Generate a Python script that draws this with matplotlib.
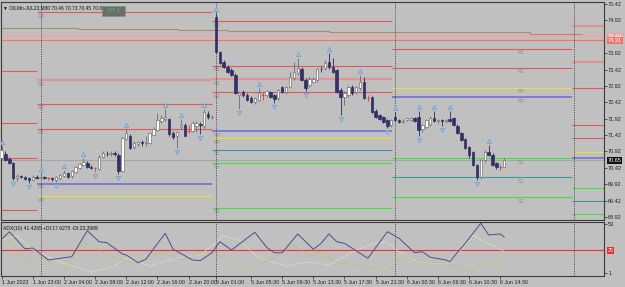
import matplotlib

matplotlib.use("Agg")
import matplotlib.pyplot as plt
import matplotlib.transforms as mtransforms
import numpy as np

plt.rcParams["font.family"] = ["Liberation Sans", "DejaVu Sans"]

# OILMn-JUL23 M30 bars, 1 Jun 19:00 .. 6 Jun 15:00 (bar index = position)
opens = [70.72, 70.85, 70.70, 70.57, 70.11, 70.17, 70.15, 70.10, 70.06, 70.14,
         70.12, 70.14, 70.10, 70.10, 70.06, 70.10, 70.17, 70.26, 70.17, 70.30,
         70.42, 70.51, 70.56, 70.45, 70.42, 70.38, 70.75, 70.85, 70.84, 70.86,
         70.81, 70.33, 71.30, 71.40, 71.06, 71.15, 71.21, 71.18, 71.18, 71.42,
         71.59, 71.85, 71.90, 71.92, 71.48, 71.38, 71.67, 71.73, 71.55, 71.55,
         71.70, 71.76, 71.70, 72.05, 71.97, 75.02, 73.95, 73.65, 73.50, 73.41,
         73.25, 72.64, 72.73, 72.64, 72.55, 72.43, 72.49, 72.64, 72.64, 72.73,
         72.64, 72.55, 72.89, 72.73, 72.89, 73.16, 73.31, 73.44, 73.10, 72.95,
         73.04, 73.10, 73.44, 73.47, 73.65, 73.50, 73.41, 72.80, 72.58, 72.64,
         72.89, 72.73, 72.86, 73.04, 72.55, 72.58, 72.16, 72.03, 71.97, 71.88,
         71.73, 71.97, 71.88, 71.82, 71.88, 71.88, 71.94, 71.97, 71.60, 71.67,
         71.76, 71.94, 71.85, 71.88, 71.86, 71.92, 71.94, 71.70, 71.48, 71.30,
         71.06, 70.90, 70.51, 70.14, 70.66, 70.90, 70.81, 70.57, 70.46, 70.46]
highs = [71.08, 70.93, 70.75, 70.60, 70.23, 70.20, 70.18, 70.14, 70.21, 70.20,
         70.27, 70.18, 70.14, 70.14, 70.16, 70.23, 70.36, 70.30, 70.36, 70.48,
         70.57, 70.72, 70.62, 70.50, 70.46, 70.80, 70.93, 70.93, 70.95, 70.93,
         70.86, 71.36, 71.62, 71.45, 71.24, 71.24, 71.27, 71.40, 71.52, 71.67,
         72.09, 72.03, 72.22, 71.95, 71.55, 71.55, 71.92, 71.78, 71.73, 71.85,
         71.85, 71.82, 72.22, 72.15, 72.03, 75.14, 74.00, 73.71, 73.56, 73.47,
         73.31, 72.76, 72.80, 72.70, 72.60, 72.58, 72.86, 72.73, 72.80, 72.78,
         72.67, 72.83, 72.92, 72.92, 73.34, 73.65, 73.77, 73.50, 73.15, 73.19,
         73.19, 73.47, 73.52, 73.70, 73.93, 73.77, 73.45, 72.86, 72.76, 72.95,
         72.95, 72.92, 73.25, 73.20, 72.64, 72.62, 72.22, 72.06, 72.00, 71.92,
         71.90, 72.12, 71.92, 71.92, 71.98, 71.98, 71.97, 72.15, 71.76, 71.90,
         72.00, 72.15, 71.92, 71.92, 71.92, 72.15, 71.97, 71.75, 71.52, 71.33,
         71.10, 70.95, 70.55, 70.70, 70.97, 71.12, 70.86, 70.60, 70.52, 70.73]
lows = [70.66, 70.63, 70.54, 70.05, 70.02, 70.11, 70.05, 69.97, 70.02, 70.08,
        70.08, 70.07, 70.05, 70.03, 69.99, 70.06, 70.13, 70.12, 70.12, 70.26,
        70.39, 70.48, 70.42, 70.38, 70.28, 70.35, 70.72, 70.78, 70.78, 70.78,
        70.22, 70.30, 71.27, 71.00, 71.00, 71.10, 71.10, 71.10, 71.15, 71.40,
        71.55, 71.80, 71.85, 71.40, 71.30, 71.03, 71.60, 71.38, 71.48, 71.50,
        71.50, 71.45, 71.65, 71.92, 71.92, 73.92, 73.60, 73.47, 73.31, 73.22,
        72.67, 72.22, 72.58, 72.46, 72.40, 72.37, 72.46, 72.49, 72.58, 72.55,
        72.40, 72.50, 72.70, 72.67, 72.85, 73.10, 73.25, 73.07, 72.78, 72.90,
        73.00, 73.05, 73.35, 73.40, 73.45, 73.30, 72.70, 72.03, 72.34, 72.58,
        72.64, 72.67, 72.80, 72.52, 72.46, 72.10, 71.95, 71.88, 71.80, 71.64,
        71.68, 71.85, 71.78, 71.78, 71.85, 71.85, 71.82, 71.39, 71.50, 71.62,
        71.70, 71.82, 71.80, 71.70, 71.80, 71.82, 71.70, 71.45, 71.25, 71.00,
        70.72, 70.48, 70.05, 70.08, 70.60, 70.78, 70.48, 70.40, 70.36, 70.45]
closes = [70.97, 70.66, 70.57, 70.11, 70.17, 70.15, 70.08, 70.05, 70.14, 70.12,
          70.14, 70.10, 70.10, 70.08, 70.14, 70.20, 70.27, 70.15, 70.33, 70.45,
          70.54, 70.60, 70.45, 70.42, 70.42, 70.75, 70.87, 70.84, 70.86, 70.83,
          70.33, 71.33, 71.48, 71.03, 71.18, 71.21, 71.19, 71.21, 71.48, 71.62,
          71.88, 71.94, 71.97, 71.45, 71.35, 71.50, 71.73, 71.40, 71.55, 71.79,
          71.79, 71.73, 72.12, 71.97, 71.97, 73.95, 73.62, 73.50, 73.34, 73.25,
          72.70, 72.70, 72.64, 72.49, 72.43, 72.55, 72.70, 72.64, 72.76, 72.58,
          72.52, 72.80, 72.73, 72.89, 73.19, 73.34, 73.47, 73.10, 72.86, 73.13,
          73.13, 73.44, 73.43, 73.62, 73.50, 73.34, 72.73, 72.58, 72.70, 72.89,
          72.70, 72.89, 73.04, 72.55, 72.55, 72.12, 71.97, 71.91, 71.82, 71.70,
          71.88, 71.88, 71.82, 71.85, 71.94, 71.94, 71.85, 71.58, 71.73, 71.88,
          71.94, 71.85, 71.88, 71.86, 71.87, 71.85, 71.73, 71.48, 71.27, 71.03,
          70.81, 70.51, 70.14, 70.66, 70.90, 70.81, 70.51, 70.45, 70.46, 70.65]

fractal_up = [0, 10, 16, 21, 32, 42, 46, 52, 55, 66, 76, 84, 92, 101, 107, 111, 115, 125]
fractal_down = [3, 7, 14, 24, 30, 45, 51, 61, 70, 78, 87, 99, 107, 113, 122]

# day separators (bar index of 01:00 of each day) and pivot segment edges
day_starts = [10, 55, 101, 147]
seg_edges = [-0.3, 9.0, 54.1, 100.3, 146.5, 155.0]

# pivot levels per day: price, label, kind
piv_1jun = [73.37, 71.79, 70.72, 69.14]
piv_1jun_names = ["", "", "", ""]
piv_1jun_kind = ["r", "r", "r", "r"]
piv_2jun = [75.17, 73.10, 72.37, 71.61, 69.93, 69.56]
piv_2jun_names = ["R3", "R2", "R2", "R1", "PP", "PP"]
piv_2jun_kind = ["r", "rb", "r", "r", "pb", "pa"]
piv_5jun = [74.90, 73.53, 73.13, 72.73, 71.54, 71.33, 70.97, 70.57, 69.20]
piv_5jun_names = ["R3", "R2", "R1", "R1", "PP", "PP", "S1", "S1", "S2"]
piv_5jun_kind = ["r", "r", "rb", "r", "pb", "pa", "sb", "sa", "sa"]
piv_6jun = [74.05, 73.47, 72.86, 72.58, 70.72, 70.14, 69.53]
piv_6jun_names = ["R1", "R1", "PP", "PP", "S1", "S1", "S2"]
piv_6jun_kind = ["r", "r", "pa", "pb", "sa", "sb", "sa"]
piv_7jun = [74.75, 73.65, 72.86, 71.73, 71.33, 70.90, 70.72, 69.81, 69.41, 69.01]
piv_7jun_names = [""] * 10
piv_7jun_kind = ["rb", "rb", "r", "r", "r", "pa", "pb", "sa", "sb", "sa"]

# slow average (stepped), full-width levels, last price
ma_edges = [-0.3, 6.4, 19.5, 32.6, 45.4, 58.2, 83.9, 110.1, 135.7, 149.0]
ma_values = [74.70, 74.68, 74.66, 74.65, 74.63, 74.60, 74.57, 74.56, 74.51]
level_hi = 74.44
level_lo = 74.31
last_price = 70.65

price_ticks = [75.42, 74.92, 73.92, 73.42, 72.92, 72.42, 71.92, 71.42, 70.92, 70.42, 69.92, 69.42, 68.92]

# ADX(10) pane
adx_x = [0, 2, 6, 8, 12, 18, 22, 25, 27, 31, 32, 35, 37, 42, 44, 49, 51, 54, 56, 59, 65, 68, 70,
         72, 76, 80, 82, 84, 86, 88, 94, 99, 102, 106, 108, 110, 114, 115, 119, 123, 125, 128, 129]
adx_v = [36.8, 44.8, 26.5, 27.5, 14.8, 18.3, 45.9, 34.2, 33.2, 21.2, 20.1, 11.9, 15.5, 43.1, 26.2,
         14.8, 14.1, 22.5, 34.2, 25.4, 44.2, 28.3, 22.5, 22.5, 42.4, 26.2, 32.5, 42.4, 34.2, 32.5,
         16.6, 44.8, 37.8, 22.5, 23.6, 17.7, 14.8, 13.0, 32.5, 53.8, 41.3, 42.4, 39.0]
pdi_x = [0, 5, 8, 10, 16, 21, 29, 34, 41, 46, 52, 54, 58, 63, 67, 71, 75, 79, 82, 86, 91, 96, 99,
         101, 103, 105, 108, 113, 117, 121, 124, 127, 129]
pdi_v = [43.5, 20.1, 9.5, 18.0, 4.2, 33.9, 16.9, 11.6, 23.3, 14.8, 23.3, 23.3, 14.8, 6.3, 11.6,
         20.1, 30.7, 20.1, 23.3, 12.7, 8.4, 6.3, 2.1, 11.6, 20.1, 18.0, 12.7, 11.6, 7.4, 2.1, 14.8,
         6.3, 17.6]
mdi_x = [0, 4, 8, 15, 23, 29, 32, 38, 45, 51, 55, 57, 61, 66, 73, 79, 84, 90, 95, 99, 102, 107,
         114, 118, 121, 124, 127, 129]
mdi_v = [36.0, 40.3, 25.4, 12.7, 2.1, 8.4, 16.9, 8.4, 16.9, 20.1, 33.9, 40.3, 36.0, 16.9, 8.4,
         12.7, 9.5, 23.3, 31.8, 33.9, 23.3, 12.7, 10.6, 25.4, 41.3, 33.9, 28.6, 23.4]
adx_level = 25

time_idx = [0, 8, 16, 24, 32, 40, 48, 55, 64, 72, 80, 88, 96, 104, 112, 120, 128]
time_labels = ["1 Jun 2023", "1 Jun 23:00", "2 Jun 04:00", "2 Jun 08:00", "2 Jun 12:00",
               "2 Jun 16:00", "2 Jun 20:00", "5 Jun 01:00", "5 Jun 05:30", "5 Jun 09:30",
               "5 Jun 13:30", "5 Jun 17:30", "5 Jun 21:30", "6 Jun 02:30", "6 Jun 06:30",
               "6 Jun 10:30", "6 Jun 14:30"]

BG = "#c0c0c0"
FRAME = "#3c3c3c"
KIND = {"r": ("#e45858", 0.8), "rb": ("#e29494", 1.6), "pa": ("#e6e03a", 0.8),
        "pb": ("#6a6ad6", 1.1), "sa": ("#44e044", 0.8), "sb": ("#3a9c9c", 0.8)}
W, H = 625, 287


def px_rect(left, top, right, bottom):
    return [left / W, 1 - bottom / H, (right - left) / W, (bottom - top) / H]


fig = plt.figure(figsize=(W / 100, H / 100), dpi=100)
fig.patch.set_facecolor(BG)
ax = fig.add_axes(px_rect(1, 2, 604, 220))
ax2 = fig.add_axes(px_rect(1, 222, 604, 276), sharex=ax)
for a in (ax, ax2):
    a.set_facecolor(BG)
    for s in a.spines.values():
        s.set_color(FRAME)
        s.set_linewidth(0.8)
    a.yaxis.tick_right()
    a.tick_params(axis="y", length=2.2, width=0.5, pad=0.8, labelsize=4, colors="#202020")

ax.set_xlim(-0.15, 154.6)
ax.set_ylim(68.83, 75.48)

# full-width lines
ax.stairs(ma_values, ma_edges, baseline=None, color="#a88c70", lw=0.8, zorder=1)
ax.axhline(level_hi, color="#efa6a6", lw=1.6, zorder=1)
ax.axhline(level_lo, color="#f07a6a", lw=0.9, zorder=1)
ax.axhline(last_price, color="#a6a6a6", lw=0.8, zorder=1)

# pivot levels
below = mtransforms.offset_copy(ax.transData, fig=fig, y=-1.5, units="dots")
days = [(piv_1jun, piv_1jun_names, piv_1jun_kind, None),
        (piv_2jun, piv_2jun_names, piv_2jun_kind, 9.2),
        (piv_5jun, piv_5jun_names, piv_5jun_kind, 54.4),
        (piv_6jun, piv_6jun_names, piv_6jun_kind, 132.5),
        (piv_7jun, piv_7jun_names, piv_7jun_kind, None)]
for k, (prices, names, kinds, lx) in enumerate(days):
    x0, x1 = seg_edges[k], seg_edges[k + 1]
    for p, nm, kd in zip(prices, names, kinds):
        col, lw = KIND[kd]
        ax.hlines(p, x0, x1, color=col, lw=lw, zorder=2)
        if nm and lx is not None:
            ax.text(lx, p, nm, transform=below, fontsize=3.8, color="#8c8c8c",
                    va="top", ha="left", zorder=2)

for d in day_starts:
    for a in (ax, ax2):
        a.axvline(d, color="#303030", lw=0.6, ls=(0, (1.2, 1.6)), zorder=3)

# candles
o, h, l, c = (np.array(v) for v in (opens, highs, lows, closes))
idx = np.arange(len(c))
up, dn, dj = c > o, c < o, c == o
ax.vlines(idx[up], l[up], h[up], color="#6c6c6c", lw=0.6, zorder=4)
ax.vlines(idx[dn], l[dn], h[dn], color="#2a2a5c", lw=0.6, zorder=4)
ax.vlines(idx[dj], l[dj], h[dj], color="#e03a3a", lw=0.6, zorder=4)
ax.bar(idx[up], c[up] - o[up], bottom=o[up], width=0.62, color="white",
       edgecolor="#5a5a5a", lw=0.4, zorder=5)
ax.bar(idx[dn], o[dn] - c[dn], bottom=c[dn], width=0.62, color="#303070",
       edgecolor="#20204c", lw=0.4, zorder=5)
ax.hlines(c[dj], idx[dj] - 0.35, idx[dj] + 0.35, color="#e03a3a", lw=0.6, zorder=5)

# fractals
tr_up = mtransforms.offset_copy(ax.transData, fig=fig, y=4, units="dots")
tr_dn = mtransforms.offset_copy(ax.transData, fig=fig, y=-4, units="dots")
ax.plot(fractal_up, h[fractal_up], ls="none", marker="^", ms=3.2, mfc="#9cc0e6",
        mec="#6898cc", mew=0.4, transform=tr_up, zorder=6)
ax.plot(fractal_down, l[fractal_down], ls="none", marker="v", ms=3.2, mfc="#9cc0e6",
        mec="#6898cc", mew=0.4, transform=tr_dn, zorder=6)

ax.set_yticks(price_ticks)
ax.set_yticklabels([f"{t:.2f}" for t in price_ticks])
ax.tick_params(axis="x", bottom=False, labelbottom=False)

# price boxes on the scale
side = mtransforms.blended_transform_factory(ax.transAxes, ax.transData)
for p, fc, tc in ((level_hi, "#efa0a0", "white"), (level_lo, "#f07a6a", "white"),
                  (last_price, "#101010", "white")):
    ax.text(1.006, p, f"{p:.2f}", transform=side, fontsize=4, color=tc, va="center",
            ha="left", clip_on=False, zorder=10,
            bbox=dict(boxstyle="square,pad=0.15", fc=fc, ec="none"))

ax.text(0.004, 0.985, "\u25bc OILMn-JUL23,M30 70.46 70.73 70.45 70.65", transform=ax.transAxes,
        fontsize=3.5, color="#101010", va="top", ha="left")
fig.text(113.5 / W, 1 - 11 / H, "  PP 1  ", fontsize=4.2, color="#3ad03a", ha="center",
         va="center", bbox=dict(boxstyle="square,pad=0.35", fc="#6c6c6c", ec="#8a8a8a", lw=0.5))

# ADX pane
ax2.set_ylim(-2.2, 55.1)
ax2.axhline(adx_level, color="#f03030", lw=0.8, zorder=1)
ax2.plot(mdi_x, mdi_v, color="#e6e2cc", lw=0.8, ls=(0, (1.2, 1.2)), zorder=2)
ax2.plot(pdi_x, pdi_v, color="#b0c85a", lw=0.8, ls=(0, (1.2, 1.2)), zorder=2)
ax2.plot(adx_x, adx_v, color="#4e4e8e", lw=0.7, zorder=3)
ax2.set_yticks([1, 53])
ax2.set_yticklabels(["1", "53"])
side2 = mtransforms.blended_transform_factory(ax2.transAxes, ax2.transData)
ax2.text(1.006, adx_level, "25", transform=side2, fontsize=4, color="white", va="center",
         ha="left", clip_on=False, bbox=dict(boxstyle="square,pad=0.15", fc="#f02828", ec="none"))
ax2.text(0.004, 0.93, "ADX(10) 41.4265 +DI:17.6275 -DI:23.3989", transform=ax2.transAxes,
         fontsize=3.6, color="#101010", va="top", ha="left")
ax2.set_xticks(time_idx)
ax2.set_xticklabels(time_labels, ha="left")
ax2.tick_params(axis="x", length=2, width=0.5, pad=1, labelsize=3.8, colors="#202020")

fig.savefig("out.png", dpi=100, facecolor=BG)
